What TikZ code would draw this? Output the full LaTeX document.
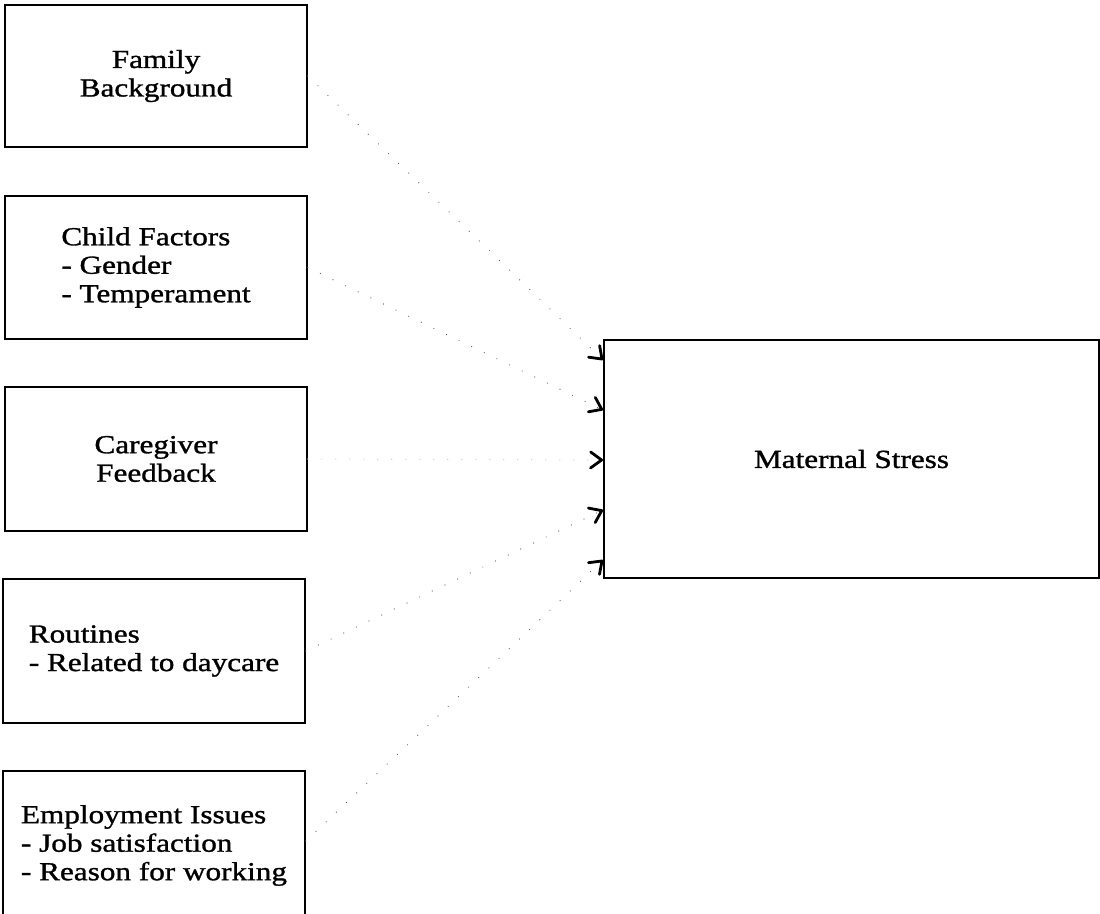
\documentclass[tikz,border=0pt]{standalone}
\usepackage{fontspec}
\setmainfont{Liberation Serif}[FakeStretch=1.2,FakeBold=1.2]
\usetikzlibrary{arrows.meta}
\begin{document}
\begin{tikzpicture}[x=1pt,y=-1pt,
  box/.style={draw=black,line width=1.6pt,minimum width=302pt,inner sep=0pt,
    font=\fontsize{26}{28.5}\selectfont},
  conn/.style={draw=black!65,line width=1.2pt,line cap=round,dash pattern=on 0pt off 14pt,
    -{Straight Barb[length=11pt,width=16pt,line width=2.8pt,color=black,round]}}]
\clip (0,0) rectangle (1100,913);
\node[box,minimum height=142pt,align=center] (b1) at (156,76) {Family\\Background};
\node[box,minimum height=143pt,align=left] (b2) at (156,267.5) {Child Factors\\- Gender\\- Temperament};
\node[box,minimum height=144pt,align=center] (b3) at (156,459) {Caregiver\\Feedback};
\node[box,minimum height=144pt,align=left] (b4) at (154,651) {Routines\\- Related to daycare};
\node[box,minimum height=150pt] (b5) at (154,846) {\raisebox{7pt}{\begin{tabular}{@{}l@{}}Employment Issues\\- Job satisfaction\\- Reason for working\end{tabular}}\hspace{14pt}};
\node[box,minimum width=495pt,minimum height=238pt] (ms) at (851.5,459) {Maternal Stress};
\coordinate (t1) at (603,360);
\coordinate (t2) at (603,410);
\coordinate (t3) at (603,460);
\coordinate (t4) at (603,510);
\coordinate (t5) at (603,560);
\draw[conn] (b1.east) -- (t1);
\draw[conn] (b2.east) -- (t2);
\draw[conn,draw=black!25] (b3.east) -- (t3);
\draw[conn] (b4.east) -- (t4);
\draw[conn] ([yshift=5pt]b5.east) -- (t5);
\end{tikzpicture}
\end{document}
